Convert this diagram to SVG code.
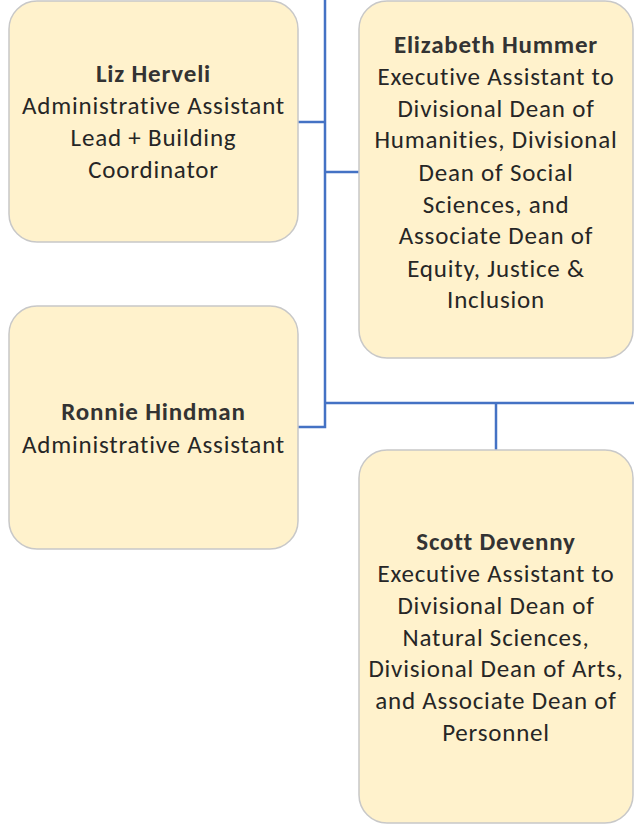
<svg xmlns="http://www.w3.org/2000/svg" width="634" height="827" viewBox="0 0 634 827">
<style>
.box{fill:#FFF2CC;stroke:#C8C8C8;stroke-width:1.5}
.conn{fill:none;stroke:#4472C4;stroke-width:2.5}
text{font-family:Carlito,"Liberation Sans",Arial,sans-serif;font-size:25px;letter-spacing:0.8px;font-variant-ligatures:none;fill:#262626;text-anchor:middle}
.nm{font-weight:bold;fill:#333333}
</style>
<rect width="634" height="827" fill="#FFFFFF"/>
<g id="connectors">
<path class="conn" d="M325,0 V427 H298"/>
<path class="conn" d="M298,122 H325"/>
<path class="conn" d="M325,172 H359"/>
<path class="conn" d="M325,403 H634"/>
<path class="conn" d="M496,403 V450"/>
</g>
<g id="liz">
<rect class="box" x="9" y="1" width="289" height="241" rx="28"/>
<text x="153.5" y="82" class="nm">Liz Herveli</text>
<text x="153.5" y="114">Administrative Assistant</text>
<text x="153.5" y="146">Lead + Building</text>
<text x="153.5" y="178">Coordinator</text>
</g>
<g id="elizabeth">
<rect class="box" x="359" y="1" width="274" height="357" rx="28"/>
<text x="496" y="53" class="nm">Elizabeth Hummer</text>
<text x="496" y="85">Executive Assistant to</text>
<text x="496" y="117">Divisional Dean of</text>
<text x="496" y="148">Humanities, Divisional</text>
<text x="496" y="181">Dean of Social</text>
<text x="496" y="213">Sciences, and</text>
<text x="496" y="244">Associate Dean of</text>
<text x="496" y="277">Equity, Justice &amp;</text>
<text x="496" y="308">Inclusion</text>
</g>
<g id="ronnie">
<rect class="box" x="9" y="306" width="289" height="243" rx="28"/>
<text x="153.5" y="420" class="nm">Ronnie Hindman</text>
<text x="153.5" y="453">Administrative Assistant</text>
</g>
<g id="scott">
<rect class="box" x="359" y="450" width="274" height="373" rx="28"/>
<text x="496" y="550" class="nm">Scott Devenny</text>
<text x="496" y="582">Executive Assistant to</text>
<text x="496" y="614">Divisional Dean of</text>
<text x="496" y="646">Natural Sciences,</text>
<text x="496" y="677">Divisional Dean of Arts,</text>
<text x="496" y="709">and Associate Dean of</text>
<text x="496" y="741">Personnel</text>
</g>
</svg>
